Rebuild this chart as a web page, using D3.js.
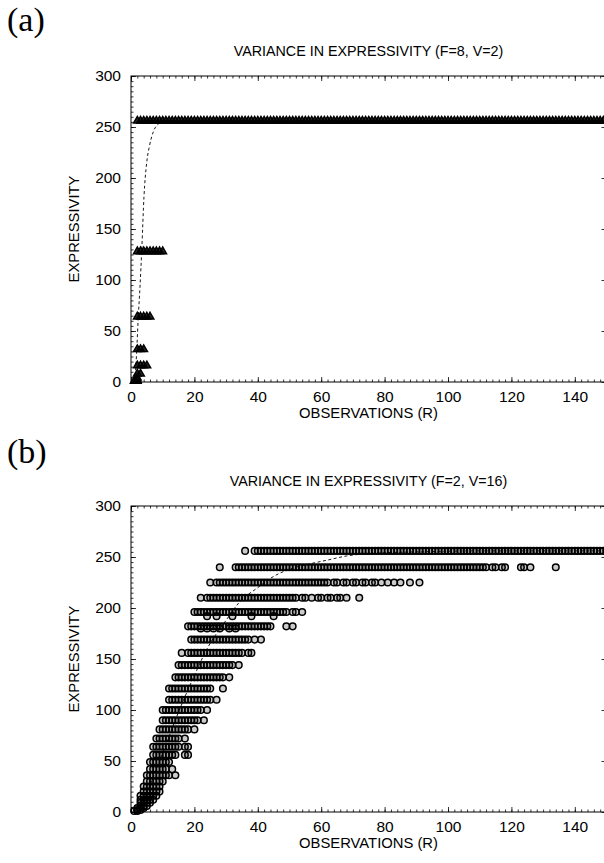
<!DOCTYPE html>
<html>
<head>
<meta charset="utf-8">
<script src="https://cdn.jsdelivr.net/npm/d3@7"></script>
<style>
  body { margin: 0; background: #fff; }
  text { font-family: "Liberation Sans", Arial, Helvetica, sans-serif; fill: #000; }
</style>
</head>
<body>
<div id="chart"></div>
<script>
// ---- data ----
var xTicks = [0, 20, 40, 60, 80, 100, 120, 140],
    yTicks = [0, 50, 100, 150, 200, 250, 300];

// panel (a): F=8, V=2 -> expressivity levels are powers of two
// each level is drawn as a run of observations R = from..to
var levelsA  = [1, 2, 4, 8, 16, 32, 64, 128, 256],
    runFromA = [1, 2, 2, 2, 2,  2,  2,  2,   2],
    runToA   = [2, 2, 2, 3, 5,  4,  6,  10,  150];

// dashed mean curve (a)
var meanRA = [1, 1.3, 1.8, 2.3, 2.85, 3.4, 4.1, 4.95, 5.8, 7, 9.1, 11, 14],
    meanA  = [1, 5, 31, 64, 94, 130, 182, 215, 231, 245, 254, 256, 256];

// panel (b): F=2, V=16 -> levels are products of two value counts
var levelsB  = [1, 2, 4, 6, 9, 12, 16, 20, 25, 30, 36, 42, 49, 56, 64, 72, 81, 90, 100, 110, 121, 132, 144, 156, 169, 182, 196, 210, 225, 240, 256],
    runFromB = [1, 2, 2, 3, 3, 3,  3,  4,  4,  5,  5,  6,  6,  7,  7,  8,  9,  10, 10,  12,  12,  14,  15,  18,  19,  18,  21,  24,  27,  33,  39],
    runToB   = [2, 3, 4, 5, 6, 7,  8,  9,  9,  10, 12, 11, 11, 14, 15, 15, 18, 21, 22,  25,  25,  28,  28,  35,  37,  44,  47,  51,  62,  112, 150];

// scattered observations outside the runs, as [R, expressivity]
var strayB = [
  [36, 256],
  [28, 240], [114, 240], [115, 240], [117, 240], [118, 240], [123, 240], [124, 240], [126, 240], [134, 240],
  [25, 225], [64, 225], [65, 225], [67, 225], [68, 225], [70, 225], [71, 225], [73, 225], [74, 225], [76, 225],
  [77, 225], [79, 225], [81, 225], [83, 225], [85, 225], [88, 225], [91, 225],
  [22, 210], [52, 210], [54, 210], [55, 210], [57, 210], [59, 210], [60, 210], [62, 210], [63, 210], [65, 210],
  [66, 210], [68, 210], [72, 210],
  [20, 196], [48, 196], [49, 196], [51, 196], [52, 196], [54, 196],
  [24, 192], [27, 192], [32, 192], [38, 192], [45, 192],
  [49, 182], [51, 182],
  [22, 180], [24, 180], [26, 180], [28, 180], [31, 180], [33, 180],
  [39, 169], [41, 169],
  [16, 156], [37, 156], [38, 156],
  [29, 144], [30, 144], [31, 144], [32, 144], [34, 144],
  [29, 132], [31, 132],
  [29, 121], [27, 110], [24, 100], [23, 90], [20, 81], [17, 72],
  [17, 64], [18, 64], [17, 56], [18, 56], [12, 49], [13, 42], [14, 36]
];

// dashed mean curve (b)
var meanRB = [1, 2, 4, 6, 8, 10, 12, 15, 18, 20, 24, 30, 34, 40, 45, 51, 56, 62, 68, 79, 90, 110, 150],
    meanB  = [1, 3.8, 13.5, 26.5, 42, 58, 74, 98, 120, 134, 160, 188, 205, 220, 231, 239, 243, 247, 251, 254, 255, 256, 256];

// ---- layout ----
var svg = d3.select('#chart').append('svg')
    .attr('width', 604)
    .attr('height', 863);

function toPoints(levels, from, to) {
  var pts = [];
  levels.forEach(function(v, i) {
    for (var r = from[i]; r <= to[i]; r++) pts.push([r, v]);
  });
  return pts;
}

function drawPanel(opt) {
  var x = d3.scaleLinear().domain([0, 150]).range([131, 606.5]);
  var y = d3.scaleLinear().domain([0, 300]).range([opt.bottom, opt.top]);

  var g = svg.append('g');

  // panel letter
  svg.append('text')
      .attr('x', 7)
      .attr('y', opt.letterY)
      .style('font-family', '"Liberation Serif", "DejaVu Serif", serif')
      .style('font-size', '34px')
      .text(opt.letter);

  // title
  g.append('text')
      .attr('x', 368.5)
      .attr('y', opt.top - 20)
      .attr('text-anchor', 'middle')
      .style('font-size', '14.3px')
      .text(opt.title);

  // ticks: major and minor, inward, on all four sides
  function ticks(axis, tr) {
    var a = g.append('g').attr('transform', tr).call(axis);
    a.select('.domain').remove();
    a.selectAll('line').attr('stroke', '#000').attr('stroke-width', 0.8);
    return a;
  }
  var xMinor = d3.range(0, 151, 2), yMinor = d3.range(0, 301, 5);

  var bx = ticks(d3.axisBottom(x).tickValues(xTicks).tickSize(-5).tickPadding(9),
                 'translate(0,' + opt.bottom + ')');
  ticks(d3.axisBottom(x).tickValues(xMinor).tickSize(-2.5).tickFormat(''), 'translate(0,' + opt.bottom + ')');
  ticks(d3.axisTop(x).tickValues(xTicks).tickSize(-5).tickFormat(''), 'translate(0,' + opt.top + ')');
  ticks(d3.axisTop(x).tickValues(xMinor).tickSize(-2.5).tickFormat(''), 'translate(0,' + opt.top + ')');

  var ly = ticks(d3.axisLeft(y).tickValues(yTicks).tickSize(-5).tickPadding(10), 'translate(131,0)');
  ticks(d3.axisLeft(y).tickValues(yMinor).tickSize(-2.5).tickFormat(''), 'translate(131,0)');
  ticks(d3.axisRight(y).tickValues(yTicks).tickSize(-5).tickFormat(''), 'translate(606.5,0)');
  ticks(d3.axisRight(y).tickValues(yMinor).tickSize(-2.5).tickFormat(''), 'translate(606.5,0)');

  bx.selectAll('text').style('font-size', '15.5px').style('font-family', null);
  ly.selectAll('text').style('font-size', '15.5px').style('font-family', null);

  // frame
  g.append('rect')
      .attr('x', 131).attr('y', opt.top)
      .attr('width', 606.5 - 131).attr('height', opt.bottom - opt.top)
      .attr('fill', 'none').attr('stroke', '#000').attr('stroke-width', 1);

  // axis labels
  g.append('text')
      .attr('transform', 'translate(79,' + ((opt.top + opt.bottom) / 2) + ') rotate(-90)')
      .attr('text-anchor', 'middle')
      .style('font-size', '14.8px')
      .text('EXPRESSIVITY');
  g.append('text')
      .attr('x', 368.5)
      .attr('y', opt.bottom + 36)
      .attr('text-anchor', 'middle')
      .style('font-size', '14.8px')
      .text('OBSERVATIONS (R)');

  // markers
  var sym = d3.symbol().type(opt.symbol).size(opt.symbolSize);
  g.append('g').selectAll('path').data(opt.points)
    .enter().append('path')
      .attr('transform', function(d) { return 'translate(' + x(d[0]) + ',' + y(d[1]) + ')'; })
      .attr('d', sym)
      .attr('fill', '#000')
      .attr('fill-opacity', opt.fillOp)
      .attr('stroke', '#000')
      .attr('stroke-width', opt.strokeW);

  // dashed mean curve
  var line = d3.line()
      .x(function(d, i) { return x(opt.meanR[i]); })
      .y(function(d) { return y(d); })
      .curve(d3.curveMonotoneX);
  g.append('path')
      .attr('d', line(opt.mean))
      .attr('fill', 'none')
      .attr('stroke', '#000')
      .attr('stroke-width', 0.9)
      .attr('stroke-dasharray', '3,2.5');
}

drawPanel({
  letter: '(a)', letterY: 31,
  title: 'VARIANCE IN EXPRESSIVITY (F=8, V=2)',
  top: 76, bottom: 382,
  points: toPoints(levelsA, runFromA, runToA),
  symbol: d3.symbolTriangle, symbolSize: 26, strokeW: 1.4, fillOp: 0.85,
  meanR: meanRA, mean: meanA
});

drawPanel({
  letter: '(b)', letterY: 463,
  title: 'VARIANCE IN EXPRESSIVITY (F=2, V=16)',
  top: 506, bottom: 812,
  points: toPoints(levelsB, runFromB, runToB).concat(strayB),
  symbol: d3.symbolCircle, symbolSize: 34, strokeW: 1.5, fillOp: 0.2,
  meanR: meanRB, mean: meanB
});
</script>
</body>
</html>
